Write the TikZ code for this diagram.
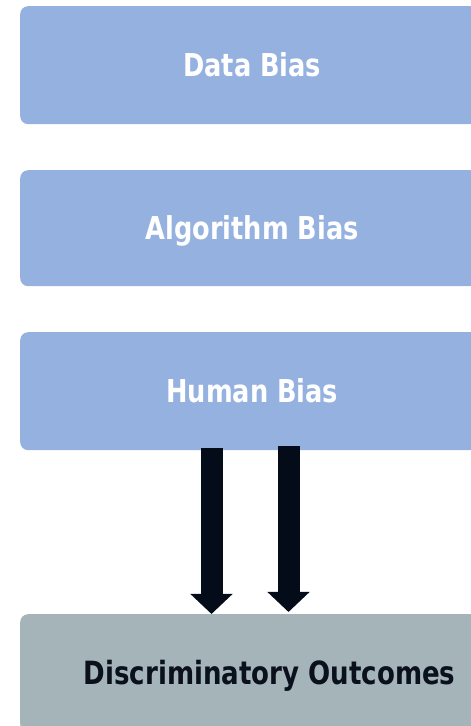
\documentclass[tikz,border=0pt]{standalone}
\usepackage{fontspec}
\setmainfont{DejaVu Sans Condensed}[FakeStretch=0.905]
\usetikzlibrary{arrows.meta}
\definecolor{boxblue}{HTML}{95B1DF}
\definecolor{boxgray}{HTML}{A4B4B8}
\definecolor{arrowdark}{HTML}{050C19}
\definecolor{textdark}{HTML}{0A111C}
\tikzset{
  boxbase/.style={draw=none, rounded corners=8pt, minimum height=118pt, inner sep=0pt, anchor=north west, text height=23pt, text depth=0pt},
  biasbox/.style={boxbase, fill=boxblue, minimum width=464pt, font=\bfseries\fontsize{31.5}{34}\selectfont, text=white},
  outbox/.style={boxbase, fill=boxgray, minimum width=499pt, font=\bfseries\fontsize{32}{34}\selectfont, text=textdark},
  bigarrow/.style={draw=arrowdark, line width=22pt, -{Triangle[width=41pt,length=20pt]}, arrowdark},
}
\begin{document}
\begin{tikzpicture}[x=1pt,y=1pt]
\useasboundingbox (0,0) rectangle (471,726);
\clip (0,0) rectangle (471,726);
\node[biasbox] (data) at (20,720) {Data Bias};
\node[biasbox, minimum height=116pt] (algo) at (20,556) {Algorithm Bias};
\node[biasbox] (human) at (20,394) {Human Bias};
\node[outbox] (out) at (20,112) {Discriminatory Outcomes};
\coordinate (a1) at (211.5,278);
\coordinate (a2) at (288.5,280);
\draw[bigarrow] (a1) -- (a1 |- out.north);
\draw[bigarrow] (a2) -- ([yshift=2pt]a2 |- out.north);
\end{tikzpicture}
\end{document}
